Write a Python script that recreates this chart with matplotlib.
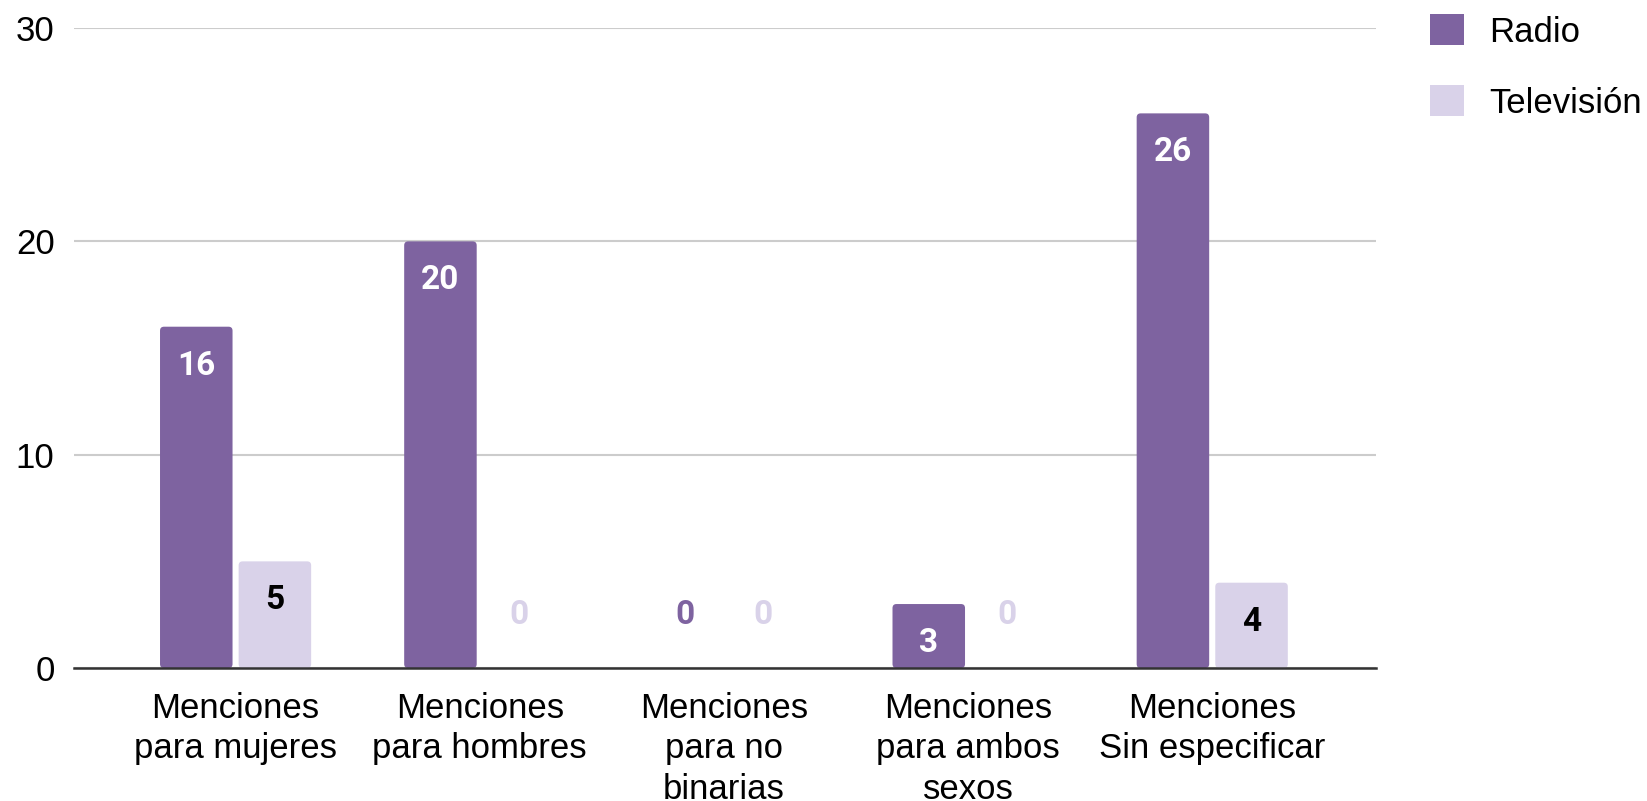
import numpy as np
import matplotlib.pyplot as plt
from matplotlib.patches import Patch, FancyBboxPatch

plt.rcParams['font.family'] = ['Liberation Sans', 'DejaVu Sans']

categories = [
    "Menciones\npara mujeres",
    "Menciones\npara hombres",
    "Menciones\npara no\nbinarias",
    "Menciones\npara ambos\nsexos",
    "Menciones\nSin especificar",
]
radio = [16, 20, 0, 3, 26]
television = [5, 0, 0, 0, 4]

RADIO_COLOR = "#7e63a0"
TV_COLOR = "#d9d2e9"

fig = plt.figure(figsize=(16.47, 8.01), dpi=100)
ax = fig.add_axes([0.0449, 0.166, 0.7906, 0.799])

x = np.arange(len(categories))
w = 0.297
off = 0.161

ax.set_xlim(-0.662, 4.671)
ax.set_ylim(0, 30)

# pixels per data unit, used to keep the rounded corners circular
px_x = ax.bbox.width / (4.671 + 0.662)
px_y = ax.bbox.height / 30.0
radius_px = 4

series = [
    ("Radio", radio, RADIO_COLOR, -off, "white"),
    ("Televisión", television, TV_COLOR, off, "black"),
]
for name, vals, color, dx, txtcolor in series:
    bars = ax.bar(x + dx, vals, width=w, color=color, zorder=3)
    for r in bars:
        if r.get_height() <= 0:
            continue
        r.set_visible(False)
        ax.add_patch(FancyBboxPatch(
            (r.get_x(), r.get_y()), r.get_width(), r.get_height(),
            boxstyle=f"round,pad=0,rounding_size={radius_px / px_x}",
            mutation_aspect=px_x / px_y, facecolor=color, edgecolor="none", zorder=3))
    for xi, v in zip(x + dx, vals):
        if v > 0:
            ax.annotate(str(v), (xi, v), xytext=(0, -28), textcoords="offset points",
                        ha="center", va="center", fontsize=24, fontweight="bold",
                        family=["Roboto", "DejaVu Sans"], color=txtcolor, zorder=4)
        else:
            ax.annotate(str(v), (xi, 0), xytext=(0, 38), textcoords="offset points",
                        ha="center", va="center", fontsize=24, fontweight="bold",
                        family=["Roboto", "DejaVu Sans"], color=color, zorder=4)

ax.set_yticks([0, 10, 20, 30])
ax.set_xticks(x)
ax.set_xticklabels(categories, fontsize=25, linespacing=1.3)
ax.tick_params(axis="y", labelsize=25, length=0, pad=14)
ax.tick_params(axis="x", length=0, pad=17)
ax.grid(axis="y", color="#cccccc", linewidth=1.5, zorder=0)
for s in ["top", "right", "left"]:
    ax.spines[s].set_visible(False)
ax.spines["bottom"].set_color("#333333")
ax.spines["bottom"].set_linewidth(1.8)
ax.spines["bottom"].set_zorder(5)

handles = [Patch(facecolor=RADIO_COLOR, label="Radio"),
           Patch(facecolor=TV_COLOR, label="Televisión")]
fig.legend(handles=handles, loc="upper left", bbox_to_anchor=(0.868, 0.982),
           frameon=False, fontsize=25, handlelength=1.0, handleheight=1.0,
           handletextpad=0.72, labelspacing=1.05, borderpad=0, borderaxespad=0)

plt.savefig("out.png", dpi=100)
